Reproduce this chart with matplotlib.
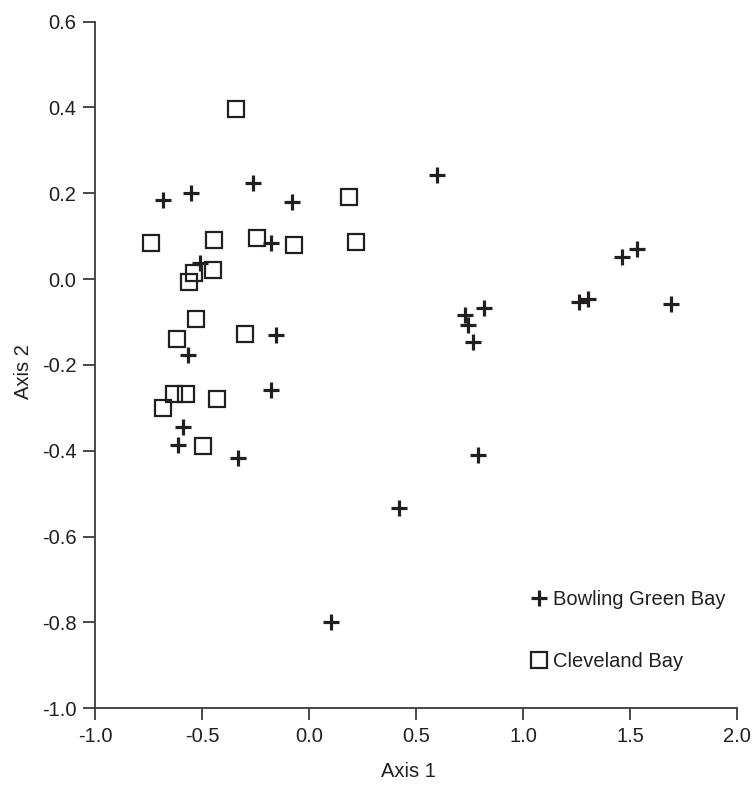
import matplotlib
matplotlib.use("Agg")
import matplotlib.pyplot as plt
from matplotlib.lines import Line2D

plt.rcParams['font.family'] = ['Liberation Sans Narrow', 'Liberation Sans', 'DejaVu Sans']

INK = '#231f20'

# Ordination scores, Bowling Green Bay sites
bgb_x = [-0.683, -0.553, -0.264, -0.078, -0.177, -0.511, 0.598,
         1.531, 1.461, 1.259, 1.302, 1.689, 0.726, 0.741, 0.818, 0.765,
         -0.157, -0.565, -0.177, -0.589, -0.612, -0.333,
         0.787, 0.421, 0.102]
bgb_y = [0.185, 0.201, 0.224, 0.180, 0.085, 0.038, 0.243,
         0.069, 0.052, -0.053, -0.046, -0.058, -0.084, -0.107, -0.067, -0.147,
         -0.131, -0.176, -0.259, -0.345, -0.387, -0.417,
         -0.410, -0.534, -0.800]

# Ordination scores, Cleveland Bay sites
cb_x = [-0.343, 0.184, -0.739, -0.446, -0.242, -0.072, 0.219,
        -0.449, -0.537, -0.561, -0.530,
        -0.617, -0.300, -0.632, -0.573, -0.682, -0.430, -0.494]
cb_y = [0.397, 0.191, 0.084, 0.090, 0.095, 0.080, 0.087,
        0.020, 0.013, -0.006, -0.093,
        -0.139, -0.127, -0.267, -0.267, -0.300, -0.280, -0.389]

x_ticks = [-1.0, -0.5, 0.0, 0.5, 1.0, 1.5, 2.0]
y_ticks = [-1.0, -0.8, -0.6, -0.4, -0.2, 0.0, 0.2, 0.4, 0.6]
series_names = ['Bowling Green Bay', 'Cleveland Bay']

FS = 14.5

fig = plt.figure(figsize=(7.56, 7.86), dpi=100)
ax = fig.add_axes([0.1257, 0.0989, 0.8496, 0.8737])

ax.plot(cb_x, cb_y, linestyle='none', marker='s', markersize=11,
        markerfacecolor='none', markeredgecolor=INK, markeredgewidth=1.6)
ax.plot(bgb_x, bgb_y, linestyle='none', marker='+', markersize=11,
        markeredgecolor=INK, markeredgewidth=2.3)

ax.set_xlim(-1.0, 2.0)
ax.set_ylim(-1.0, 0.6)
ax.set_xticks(x_ticks)
ax.set_yticks(y_ticks)
ax.set_xticklabels([f'{v:.1f}' for v in x_ticks])
ax.set_yticklabels([f'{v:.1f}' for v in y_ticks])

for side in ('top', 'right'):
    ax.spines[side].set_visible(False)
for side in ('left', 'bottom'):
    ax.spines[side].set_color('#3a3a3a')
    ax.spines[side].set_linewidth(1.3)

ax.tick_params(direction='out', length=8.5, width=1.3, color='#3a3a3a',
               labelsize=FS, labelcolor=INK, pad=5)

ax.set_xlabel('Axis 1', fontsize=FS, color=INK)
ax.set_ylabel('Axis 2', fontsize=FS, color=INK)
ax.xaxis.set_label_coords(0.4875, -0.078)
ax.yaxis.set_label_coords(-0.097, 0.49)

handles = [
    Line2D([], [], linestyle='none', marker='+', markersize=11,
           markeredgecolor=INK, markeredgewidth=2.3),
    Line2D([], [], linestyle='none', marker='s', markersize=11,
           markerfacecolor='none', markeredgecolor=INK, markeredgewidth=1.6),
]
ax.legend(handles, series_names, loc='upper left',
          bbox_to_anchor=(0.679, 0.172), frameon=False, fontsize=FS,
          handlelength=0.8, handletextpad=0.3, labelspacing=2.15,
          borderaxespad=0, borderpad=0, labelcolor=INK)

fig.savefig('out.png', dpi=100)
